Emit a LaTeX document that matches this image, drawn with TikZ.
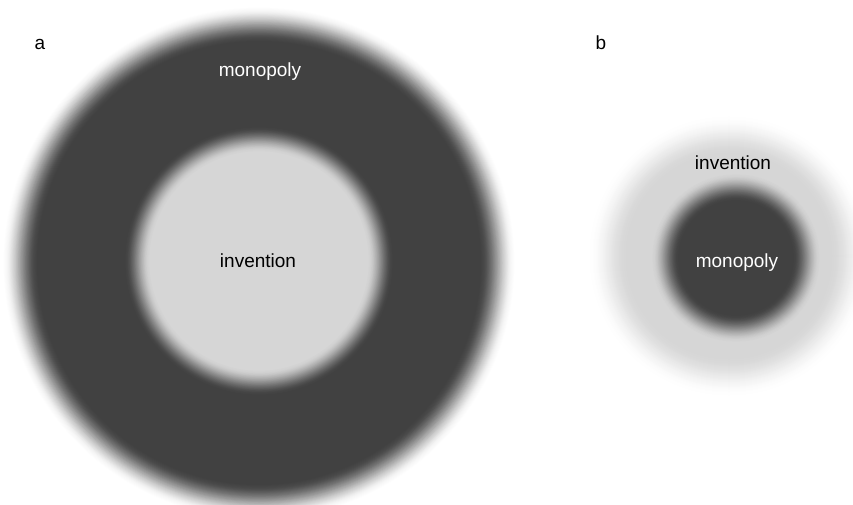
\documentclass[tikz,border=0pt]{standalone}
\usepackage{fontspec}
\setmainfont{Liberation Sans}
\definecolor{ringdark}{RGB}{65,65,65}
\definecolor{ringlight}{RGB}{214,214,214}
% soft-edged disc: #1 centre, #2 radius, #3 half blur width, #4 outside colour, #5 inside colour
\newcommand{\softdisc}[5]{%
  \foreach \k in {0,...,40}{%
    \pgfmathsetmacro\rr{#2+#3-2*#3*\k/40}%
    \pgfmathsetmacro\ff{1-\k/40}%
    \pgfmathtruncatemacro\pp{round(100*\ff*\ff*(3-2*\ff))}%
    \fill[#4!\pp!#5] (#1) circle[radius=\rr pt];
  }}
\tikzset{
  lbl/.style={font=\fontsize{19}{23}\selectfont, anchor=base, inner sep=0pt},
  lbldark/.style={lbl, text=black},
  lbllight/.style={lbl, text=white}
}
\begin{document}
\begin{tikzpicture}[x=1pt,y=-1pt]
  \useasboundingbox (0,0) rectangle (853,505);
  \clip (0,0) rectangle (853,505);
  \fill[white] (0,0) rectangle (853,505);
  % panel a
  \coordinate (ca) at (259,263);
  \coordinate (cai) at (259,261);
  \softdisc{ca}{239}{18}{white}{ringdark}
  \softdisc{cai}{122}{13}{ringdark}{ringlight}
  % panel b
  \coordinate (cbo) at (729,256);
  \coordinate (cbi) at (736,258);
  \softdisc{cbo}{121}{20}{white}{ringlight}
  \softdisc{cbi}{71}{14}{ringlight}{ringdark}
  % labels
  \node[lbldark] (la) at (40,50) {a};
  \node[lbldark] (lb) at (601,50) {b};
  \node[lbllight] (amono) at (260,77) {monopoly};
  \node[lbldark] (ainv) at (258,267) {invention};
  \node[lbldark] (binv) at (733,170) {invention};
  \node[lbllight] (bmono) at (737,267) {monopoly};
\end{tikzpicture}
\end{document}
